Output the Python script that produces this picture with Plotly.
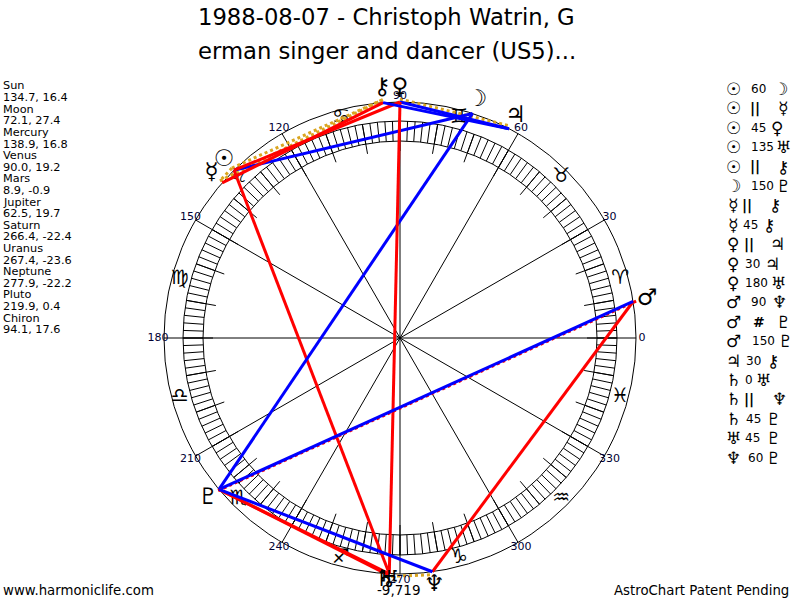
import numpy as np
import plotly.graph_objects as go

# chart values
planets = ["Sun", "Moon", "Mercury", "Venus", "Mars", "Jupiter", "Saturn", "Uranus", "Neptune", "Pluto", "Chiron"]
longitudes = [134.7, 72.1, 138.9, 90.0, 8.9, 62.5, 266.4, 267.4, 277.9, 219.9, 94.1]
declinations = [16.4, 27.4, 16.8, 19.2, -0.9, 19.7, -22.4, -23.6, -22.2, 0.4, 17.6]
glyphs = ["\u2609", "\u263D", "\u263F", "\u2640", "\u2642", "\u2643", "\u2644", "\u2645", "\u2646", "\u2647", "\u26B7"]

zodiac = ["\u2648", "\u2649", "\u264A", "\u264B", "\u264C", "\u264D", "\u264E", "\u264F", "\u2650", "\u2651", "\u2652", "\u2653"]
zodiac_theta = [15, 45, 75, 105, 135, 165, 195, 225, 255, 285, 315, 345]
degree_labels = [0, 30, 60, 90, 120, 150, 180, 210, 240, 270, 300, 330]

# aspect table, same order as the column on the right
aspect_a = ["Sun", "Sun", "Sun", "Sun", "Sun", "Moon", "Mercury", "Mercury", "Venus", "Venus",
            "Venus", "Mars", "Mars", "Mars", "Jupiter", "Saturn", "Saturn", "Saturn", "Uranus", "Neptune"]
aspect_kind = ["60", "||", "45", "135", "||", "150", "||", "45", "||", "30",
               "180", "90", "#", "150", "30", "0", "||", "45", "45", "60"]
aspect_b = ["Moon", "Mercury", "Venus", "Uranus", "Chiron", "Pluto", "Chiron", "Chiron", "Jupiter", "Jupiter",
            "Uranus", "Neptune", "Pluto", "Pluto", "Chiron", "Uranus", "Neptune", "Pluto", "Pluto", "Pluto"]

# layout in page pixels
W, H = 800, 600
CX, CY = 400, 338
R_MAX = 262
R_OUTER, R_RING_OUT, R_RING_IN, R_TICK_IN = 236, 217, 197, 187
kind_x = [758, 755, 758, 762, 755, 762, 747, 750, 749, 752, 756, 758, 759, 763, 753, 749, 749, 753, 752, 755]
second_x = [780, 783, 777, 783, 783, 783, 775, 769, 777, 772, 778, 779, 783, 785, 773, 763, 779, 773, 773, 773]
glyph_r = [250, 250, 250, 250, 250, 250, 243, 243, 250, 250, 250]
heavy = ["Sun", "Moon"]


def px(x, y):
    return x / W, 1 - y / H


def style_for(kind):
    if kind == "||":
        return dict(color="#DAA520", width=3, dash="dot")
    if kind == "#":
        return dict(color="#FF0000", width=3, dash="dot")
    if kind in ("30", "60", "150"):
        return dict(color="#0000FF", width=3)
    return dict(color="#FF0000", width=3)


def segments(angles, r0, r1):
    r, t = [], []
    for a in angles:
        r += [r0, r1, None]
        t += [a, a, None]
    return r, t


fig = go.Figure()

# ring ticks, ten degree ticks and the spokes
for angles, r0, r1 in [(np.arange(0, 360, 2), R_RING_IN, R_RING_OUT),
                       (np.arange(0, 360, 10), R_TICK_IN, R_RING_OUT),
                       (np.arange(0, 360, 30), 0, R_OUTER)]:
    r, t = segments(angles.tolist(), r0, r1)
    fig.add_trace(go.Scatterpolar(r=r, theta=t, mode="lines", line=dict(color="#000000", width=1),
                                  hoverinfo="skip"))

fig.add_trace(go.Scatterpolar(r=[228] * 12, theta=zodiac_theta, mode="text",
                              text=[z + "\uFE0E" for z in zodiac],
                              textfont=dict(family="DejaVu Sans", size=20, color="#000000"), hoverinfo="skip"))

# dotted aspects go first and sit a little outside, the solid lines cover part of them
order = sorted(range(len(aspect_kind)), key=lambda k: aspect_kind[k] not in ("||", "#"))
for k in order:
    dotted = aspect_kind[k] in ("||", "#")
    r_line = R_OUTER + 3 if dotted else R_OUTER
    fig.add_trace(go.Scatterpolar(r=[r_line, r_line],
                                  theta=[longitudes[planets.index(aspect_a[k])],
                                         longitudes[planets.index(aspect_b[k])]],
                                  mode="lines", line=style_for(aspect_kind[k]), hoverinfo="skip"))

fig.add_trace(go.Scatterpolar(r=[242] * 12, theta=degree_labels, mode="text", text=[str(d) for d in degree_labels],
                              textfont=dict(family="DejaVu Sans", size=11, color="#000033"), hoverinfo="skip"))

fig.add_trace(go.Scatterpolar(r=glyph_r, theta=longitudes, mode="text",
                              text=[f"<b>{g}</b>" if n in heavy else g for g, n in zip(glyphs, planets)],
                              textfont=dict(family="DejaVu Sans", size=23, color="#000000"), hoverinfo="skip"))

annotations = []


def note(x, y, text, size=11.3, anchor="left", bold=False):
    ax, ay = px(x, y)
    annotations.append(dict(x=ax, y=ay, xref="paper", yref="paper", text=f"<b>{text}</b>" if bold else text,
                            showarrow=False, xanchor=anchor, yanchor="middle", borderpad=0,
                            font=dict(family="DejaVu Sans", size=size, color="#000000")))


note(CX - 13.5, 17, "1988-08-07 - Christoph Watrin, G", size=22.7, anchor="center")
note(CX - 13.5, 51, "erman singer and dancer (US5)...", size=22.7, anchor="center")

# planet positions column
for i, name in enumerate(planets):
    note(2, 86 + i * 23.2, name)
    note(2, 97.6 + i * 23.2, f"{longitudes[i]}, {declinations[i]}")

# aspect column
for i, (a, kind, b) in enumerate(zip(aspect_a, aspect_kind, aspect_b)):
    y = 89 + i * 19.4
    note(733, y, glyphs[planets.index(a)], size=17, anchor="center", bold=a in heavy)
    note(kind_x[i], y, kind, size=12 if kind not in ("||", "#") else 14, anchor="center", bold=kind in ("||", "#"))
    note(second_x[i], y, glyphs[planets.index(b)], size=17, anchor="center", bold=b in heavy)

note(CX - 1, 590, "-9,719", size=13.5, anchor="center")
note(2, 590, "www.harmoniclife.com", size=13.3)
note(790, 590, "AstroChart Patent Pending", size=13.3, anchor="right")

half_x = R_MAX / W
half_y = R_MAX / H
fig.update_layout(
    width=W, height=H,
    autosize=False,
    margin=dict(l=0, r=0, t=0, b=0),
    paper_bgcolor="white",
    showlegend=False,
    annotations=annotations,
    polar=dict(
        domain=dict(x=[CX / W - half_x, CX / W + half_x], y=[1 - CY / H - half_y, 1 - CY / H + half_y]),
        bgcolor="white",
        radialaxis=dict(range=[0, R_MAX], tickvals=[R_RING_IN, R_RING_OUT, R_OUTER], showticklabels=False,
                        ticks="", showline=False, gridcolor="#000000", gridwidth=1),
        angularaxis=dict(rotation=0, direction="counterclockwise", showgrid=False, showline=False,
                         showticklabels=False, ticks=""),
    ),
)

# the page margin would otherwise push the 800x600 figure out of the window
fig.write_html("out.html", config={"displayModeBar": False},
               post_script="document.body.style.margin='0';document.body.style.overflow='hidden';")
